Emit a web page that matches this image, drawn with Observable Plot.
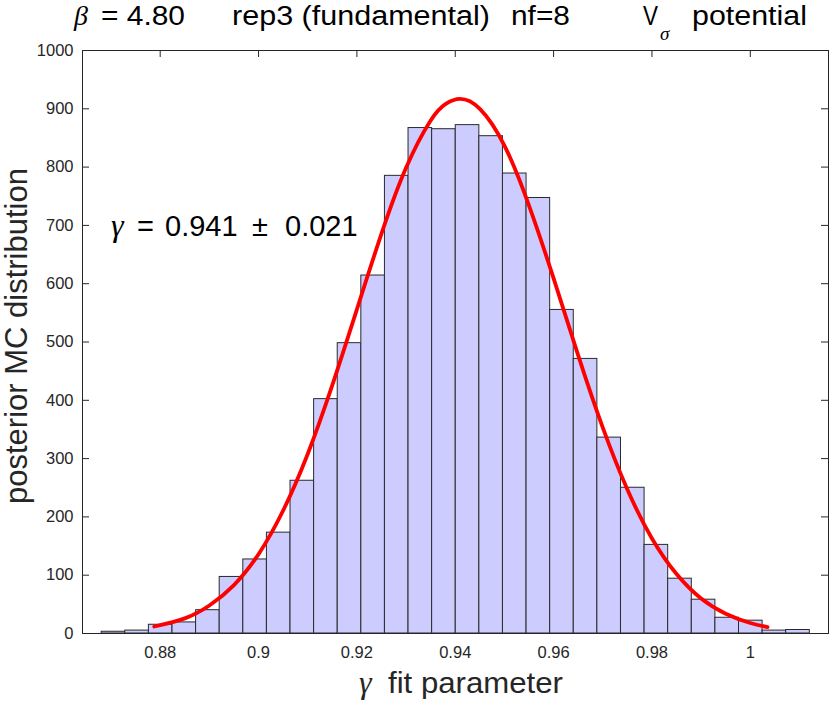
<!DOCTYPE html>
<html>
<head>
<meta charset="utf-8">
<script src="https://cdn.jsdelivr.net/npm/d3@7"></script>
<script src="https://cdn.jsdelivr.net/npm/@observablehq/plot@0.6"></script>
<style>
  html, body { margin: 0; padding: 0; background: white; }
  #wrap { position: relative; width: 830px; height: 702px; }
  #overlay { position: absolute; left: 0; top: 0; pointer-events: none; }
</style>
</head>
<body>
<div id="wrap">
  <div id="chart"></div>
  <svg id="overlay" width="830" height="702" xmlns="http://www.w3.org/2000/svg">
    <g font-family="Liberation Sans, Arial, Helvetica, sans-serif" fill="#000" font-size="27">
      <text x="74" y="25" font-family="Liberation Serif, Times New Roman, serif" font-style="italic" font-size="28">β</text>
      <text x="101" y="25" textLength="84" lengthAdjust="spacingAndGlyphs">= 4.80</text>
      <text x="232" y="25" textLength="258" lengthAdjust="spacingAndGlyphs">rep3 (fundamental)</text>
      <text x="511" y="25" textLength="59" lengthAdjust="spacingAndGlyphs">nf=8</text>
      <text x="643" y="25" textLength="15" lengthAdjust="spacingAndGlyphs">V</text>
      <text x="660" y="40" font-size="19" font-family="Liberation Serif, Times New Roman, serif" font-style="italic">σ</text>
      <text x="692" y="25" textLength="115" lengthAdjust="spacingAndGlyphs">potential</text>
    </g>
    <g font-family="Liberation Sans, Arial, Helvetica, sans-serif" fill="#000" font-size="29">
      <text x="111" y="236" font-family="Liberation Serif, Times New Roman, serif" font-style="italic" font-size="32">γ</text>
      <text x="137" y="236">=</text>
      <text x="165" y="236">0.941</text>
      <text x="252" y="236">±</text>
      <text x="285" y="236">0.021</text>
    </g>
    <g font-family="Liberation Sans, Arial, Helvetica, sans-serif" fill="#262626" font-size="30">
      <text x="359" y="693" font-family="Liberation Serif, Times New Roman, serif" font-style="italic" font-size="32">γ</text>
      <text x="388" y="693" textLength="175" lengthAdjust="spacingAndGlyphs">fit parameter</text>
      <text transform="translate(27,336) rotate(-90)" text-anchor="middle" font-size="31">posterior MC distribution</text>
    </g>
  </svg>
</div>
<script>
// ---- data ----
const binEdges = [0.8681, 0.8729, 0.8777, 0.8825, 0.8873, 0.8921, 0.8969, 0.9017, 0.9065, 0.9113,
                  0.9161, 0.9209, 0.9257, 0.9305, 0.9353, 0.9401, 0.9449, 0.9497, 0.9545, 0.9593,
                  0.9641, 0.9689, 0.9737, 0.9785, 0.9833, 0.9881, 0.9929, 0.9977, 1.0025, 1.0073, 1.0121];
const binCounts = [3, 5, 15, 19, 40, 97, 127, 173, 262, 402,
                   498, 614, 785, 867, 865, 872, 853, 789, 747, 555,
                   471, 336, 250, 152, 94, 58, 27, 22, 5, 6];
const fitX = [0.8788, 0.885, 0.890, 0.895, 0.900, 0.905, 0.910, 0.915, 0.920, 0.925, 0.930, 0.935, 0.938, 0.941,
              0.945, 0.950, 0.955, 0.960, 0.965, 0.970, 0.975, 0.980, 0.985, 0.990, 0.995, 1.000, 1.0035];
const fitY = [12, 26, 48, 83, 136, 211, 308, 426, 556, 686, 799, 880, 908, 917,
              900, 837, 734, 609, 477, 353, 247, 163, 102, 60, 34, 18, 11];
const xTicks = [0.88, 0.9, 0.92, 0.94, 0.96, 0.98, 1];
const xTickLabels = ["0.88", "0.9", "0.92", "0.94", "0.96", "0.98", "1"];
const yTicks = [0, 100, 200, 300, 400, 500, 600, 700, 800, 900, 1000];
const yTickLabels = ["0", "100", "200", "300", "400", "500", "600", "700", "800", "900", "1000"];

const bins = binCounts.map((c, i) => ({x1: binEdges[i], x2: binEdges[i + 1], count: c}));
const fit = fitX.map((x, i) => ({x, y: fitY[i]}));

const W = 830, H = 702, mL = 82, mR = 2, mT = 50, mB = 69, tick = 7;
const frameW = W - mL - mR, frameH = H - mT - mB;
const axisColor = "#262626";

const chart = Plot.plot({
  width: W, height: H,
  marginLeft: mL, marginRight: mR, marginTop: mT, marginBottom: mB,
  style: {fontFamily: "Liberation Sans, Arial, Helvetica, sans-serif", fontSize: "16.5px", color: axisColor, background: "white"},
  x: {domain: [0.8642, 1.0159]},
  y: {domain: [0, 1000]},
  marks: [
    Plot.tickX(xTicks, {x: d => d, insetTop: frameH - tick, stroke: axisColor}),
    Plot.tickX(xTicks, {x: d => d, insetBottom: frameH - tick, stroke: axisColor}),
    Plot.tickY(yTicks, {y: d => d, insetRight: frameW - tick, stroke: axisColor}),
    Plot.tickY(yTicks, {y: d => d, insetLeft: frameW - tick, stroke: axisColor}),
    Plot.rect(bins, {x1: "x1", x2: "x2", y1: 0, y2: "count", fill: "#ccccff", stroke: "#2a2a2a", strokeWidth: 1}),
    Plot.line(fit, {x: "x", y: "y", stroke: "#ff0000", strokeWidth: 3.8, curve: "natural"}),
    Plot.frame({stroke: axisColor}),
    Plot.axisX(xTicks, {tickSize: 0, tickPadding: 13, tickFormat: d => xTickLabels[xTicks.indexOf(d)], label: null, fill: axisColor}),
    Plot.axisY(yTicks, {tickSize: 0, tickPadding: 9, tickFormat: d => yTickLabels[yTicks.indexOf(d)], label: null, fill: axisColor})
  ]
});
document.getElementById("chart").appendChild(chart);
</script>
</body>
</html>
